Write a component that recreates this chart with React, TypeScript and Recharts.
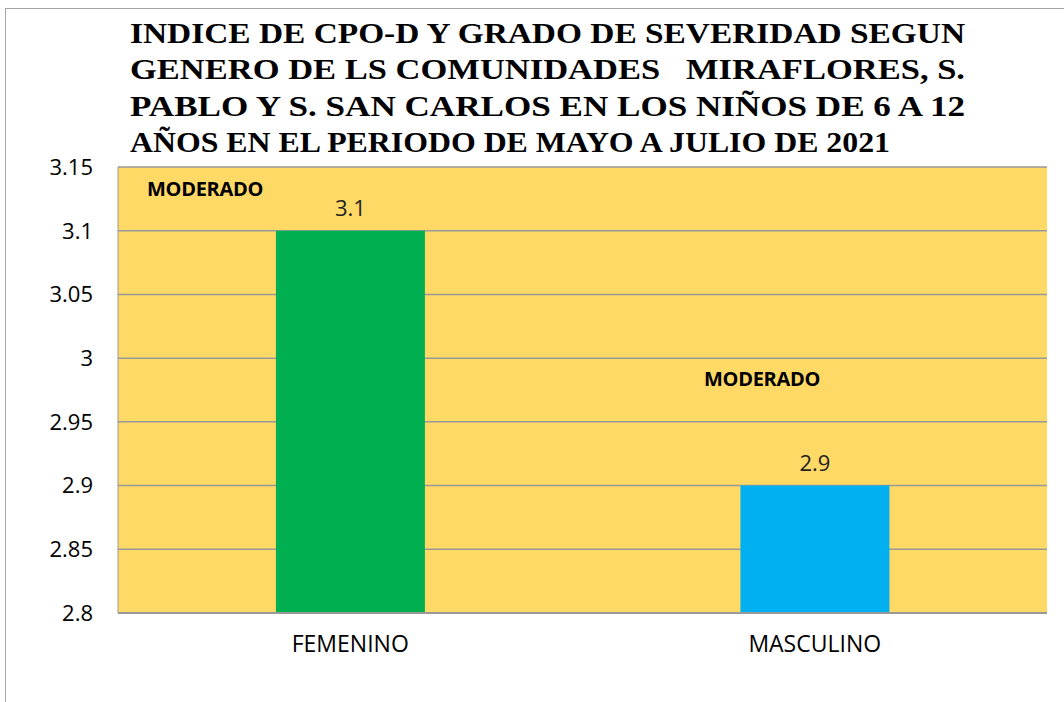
import React from "react";
import {
  BarChart,
  Bar,
  XAxis,
  YAxis,
  CartesianGrid,
  Cell,
  LabelList,
} from "recharts";

const categories = ["FEMENINO", "MASCULINO"];
const cpodValues = [3.1, 2.9];
const severity = ["MODERADO", "MODERADO"];
const yTicks = [2.8, 2.85, 2.9, 2.95, 3, 3.05, 3.1, 3.15];
const titleLines = [
  "INDICE DE CPO-D Y GRADO DE SEVERIDAD SEGUN",
  "GENERO DE LS COMUNIDADES   MIRAFLORES, S.",
  "PABLO Y S. SAN CARLOS EN LOS NIÑOS DE 6 A 12",
  "AÑOS EN EL PERIODO DE MAYO A JULIO DE 2021",
];

const barColors = ["#00B050", "#00B0F0"];

const data = categories.map((name, i) => ({
  name,
  value: cpodValues[i],
  grade: severity[i],
}));

const fmt = (v: number) => String(Number(v.toFixed(2)));

const gradeStyle: React.CSSProperties = {
  position: "absolute",
  fontFamily: "Open Sans",
  fontWeight: "bold",
  fontSize: 20,
  letterSpacing: -0.3,
  color: "#000",
};

const App: React.FC = () => {
  // justified title lines, last one is shorter
  const lineWidths = [835, 835, 835, 760];
  const lineY = [43, 79, 116, 152];

  return (
    <div
      style={{
        position: "absolute",
        left: 0,
        top: 0,
        width: 1064,
        height: 702,
        background: "#fff",
        overflow: "hidden",
      }}
    >
      {/* outer chart frame */}
      <div
        style={{
          position: "absolute",
          left: 5,
          top: 8,
          width: 1100,
          height: 760,
          border: "1.5px solid #a6a6a6",
        }}
      />
      <BarChart
        width={1064}
        height={702}
        data={data}
        margin={{ top: 167, right: 17, left: 0, bottom: 29 }}
        barCategoryGap="34%"
      >
        <CartesianGrid
          vertical={false}
          stroke="#999999"
          strokeWidth={1.5}
          fill="#FFD966"
          fillOpacity={1}
        />
        <XAxis
          dataKey="name"
          height={60}
          tickLine={false}
          tickSize={0}
          tickMargin={23}
          axisLine={{ stroke: "#999999", strokeWidth: 2 }}
          tick={{ fill: "#000", fontSize: 23, fontFamily: "Open Sans" }}
        />
        <YAxis
          width={118}
          domain={[2.8, 3.15]}
          ticks={yTicks}
          interval={0}
          tickFormatter={fmt}
          tickLine={false}
          tickSize={0}
          tickMargin={25}
          axisLine={{ stroke: "#999999", strokeWidth: 1 }}
          allowDataOverflow
          tick={{ fill: "#000", fontSize: 22, fontFamily: "Open Sans" }}
        />
        <Bar dataKey="value" isAnimationActive={false}>
          {data.map((d, i) => (
            <Cell key={d.name} fill={barColors[i]} />
          ))}
          <LabelList
            dataKey="value"
            position="top"
            offset={15}
            formatter={(v: number) => fmt(v)}
            style={{ fill: "#222", fontSize: 22, fontFamily: "Open Sans" }}
          />
        </Bar>
      </BarChart>
      {/* title */}
      <svg
        width={1064}
        height={170}
        style={{ position: "absolute", left: 0, top: 0 }}
      >
        {titleLines.map((t, i) => (
          <text
            key={i}
            x={130}
            y={lineY[i]}
            textLength={lineWidths[i]}
            lengthAdjust="spacingAndGlyphs"
            fontFamily="Liberation Serif"
            fontWeight="bold"
            fontSize={29}
            fill="#000"
            style={{ whiteSpace: "pre" }}
          >
            {t}
          </text>
        ))}
      </svg>
      {/* severity grade text boxes */}
      <div style={{ ...gradeStyle, left: 147, top: 175 }}>{data[0].grade}</div>
      <div style={{ ...gradeStyle, left: 704, top: 365 }}>{data[1].grade}</div>
    </div>
  );
};

export default App;
